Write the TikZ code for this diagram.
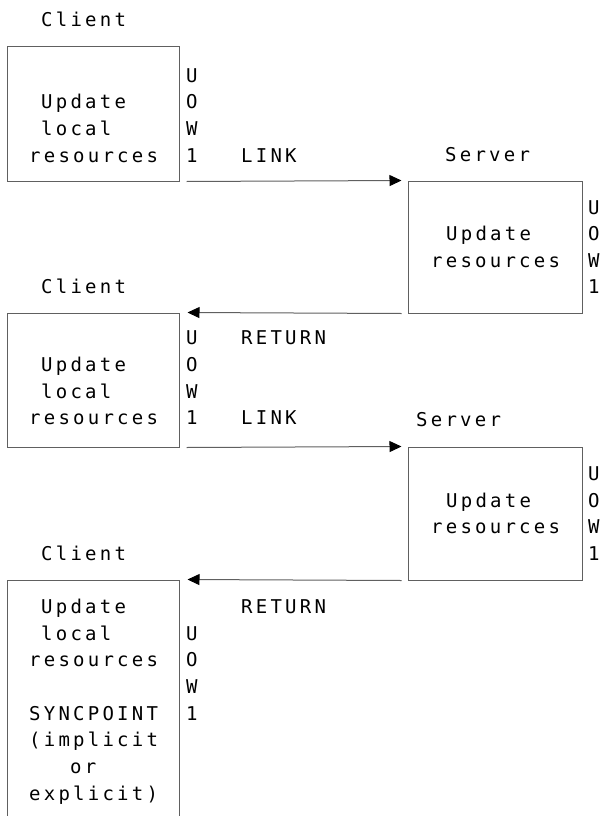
\documentclass[tikz,border=0pt]{standalone}
\usepackage{fontspec}
\newfontfamily\monof[LetterSpace=17]{DejaVu Sans Mono}
\usetikzlibrary{arrows.meta}
\definecolor{linegray}{RGB}{96,96,96}
\tikzset{
  box/.style={draw=linegray, line width=1pt, inner sep=0pt, rectangle},
  lbl/.style={anchor=base west, inner sep=0pt, text=black, font={\monof\fontsize{19}{21}\selectfont}},
  arr/.style={draw=linegray, line width=1pt, -{Triangle[length=12pt,width=11pt,color=black]}}
}
\begin{document}
\begin{tikzpicture}[x=1pt,y=-1pt]
\useasboundingbox (0,0) rectangle (603,816);
\clip (0,0) rectangle (603,816);
% boxes
\node[box, minimum width=172pt, minimum height=134pt] (c1) at (93,114) {};
\node[box, minimum width=174pt, minimum height=132pt] (s1) at (495,247) {};
\node[box, minimum width=172pt, minimum height=134pt] (c2) at (93,380) {};
\node[box, minimum width=174pt, minimum height=133pt] (s2) at (495,513.5) {};
\node[box, minimum width=172pt, minimum height=260pt] (c3) at (93,710) {};
% connectors
\draw[arr] ([xshift=7pt]c1.south east) -- ([xshift=-6pt]s1.north west);
\draw[arr] ([xshift=-6pt]s1.south west) -- ([xshift=8pt]c2.north east);
\draw[arr] ([xshift=7pt]c2.south east) -- ([xshift=-6pt]s2.north west);
\draw[arr] ([xshift=-6pt]s2.south west) -- ([xshift=8pt]c3.north east);
% client 1
\node[lbl] (cl1) at (41,27) {Client};
\node[lbl] (c1a) at (41,108.7) {Update};
\node[lbl] (c1b) at (41,135.3) {local};
\node[lbl] (c1c) at (29,162) {resources};
\node[lbl] (u1a) at (186,82) {U};
\node[lbl] (u1b) at (186,108.7) {O};
\node[lbl] (u1c) at (186,135.3) {W};
\node[lbl] (u1d) at (186,162) {1};
\node[lbl] (lk1) at (241,162) {LINK};
% server 1
\node[lbl] (sl1) at (445,161) {Server};
\node[lbl] (s1a) at (446,240.5) {Update};
\node[lbl] (s1b) at (431,267) {resources};
\node[lbl] (v1a) at (588,214) {U};
\node[lbl] (v1b) at (588,240.5) {O};
\node[lbl] (v1c) at (588,267) {W};
\node[lbl] (v1d) at (588,293.5) {1};
% client 2
\node[lbl] (cl2) at (41,293.5) {Client};
\node[lbl] (rt1) at (241,344.6) {RETURN};
\node[lbl] (c2a) at (41,371.3) {Update};
\node[lbl] (c2b) at (41,398) {local};
\node[lbl] (c2c) at (29,424.7) {resources};
\node[lbl] (u2a) at (186,344.6) {U};
\node[lbl] (u2b) at (186,371.3) {O};
\node[lbl] (u2c) at (186,398) {W};
\node[lbl] (u2d) at (186,424.7) {1};
\node[lbl] (lk2) at (241,424.7) {LINK};
% server 2
\node[lbl] (sl2) at (416,426) {Server};
\node[lbl] (s2a) at (446,507) {Update};
\node[lbl] (s2b) at (431,533.7) {resources};
\node[lbl] (v2a) at (588,480.3) {U};
\node[lbl] (v2b) at (588,507) {O};
\node[lbl] (v2c) at (588,533.7) {W};
\node[lbl] (v2d) at (588,560.4) {1};
% client 3
\node[lbl] (cl3) at (41,560) {Client};
\node[lbl] (rt2) at (241,613.4) {RETURN};
\node[lbl] (c3a) at (41,613.4) {Update};
\node[lbl] (c3b) at (41,640.1) {local};
\node[lbl] (c3c) at (29,666.8) {resources};
\node[lbl] (c3d) at (29,720.2) {SYNCPOINT};
\node[lbl] (c3e) at (29,746.9) {(implicit};
\node[lbl] (c3f) at (70,773.6) {or};
\node[lbl] (c3g) at (29,800.3) {explicit)};
\node[lbl] (u3a) at (186,640.1) {U};
\node[lbl] (u3b) at (186,666.8) {O};
\node[lbl] (u3c) at (186,693.5) {W};
\node[lbl] (u3d) at (186,720.2) {1};
\end{tikzpicture}
\end{document}
